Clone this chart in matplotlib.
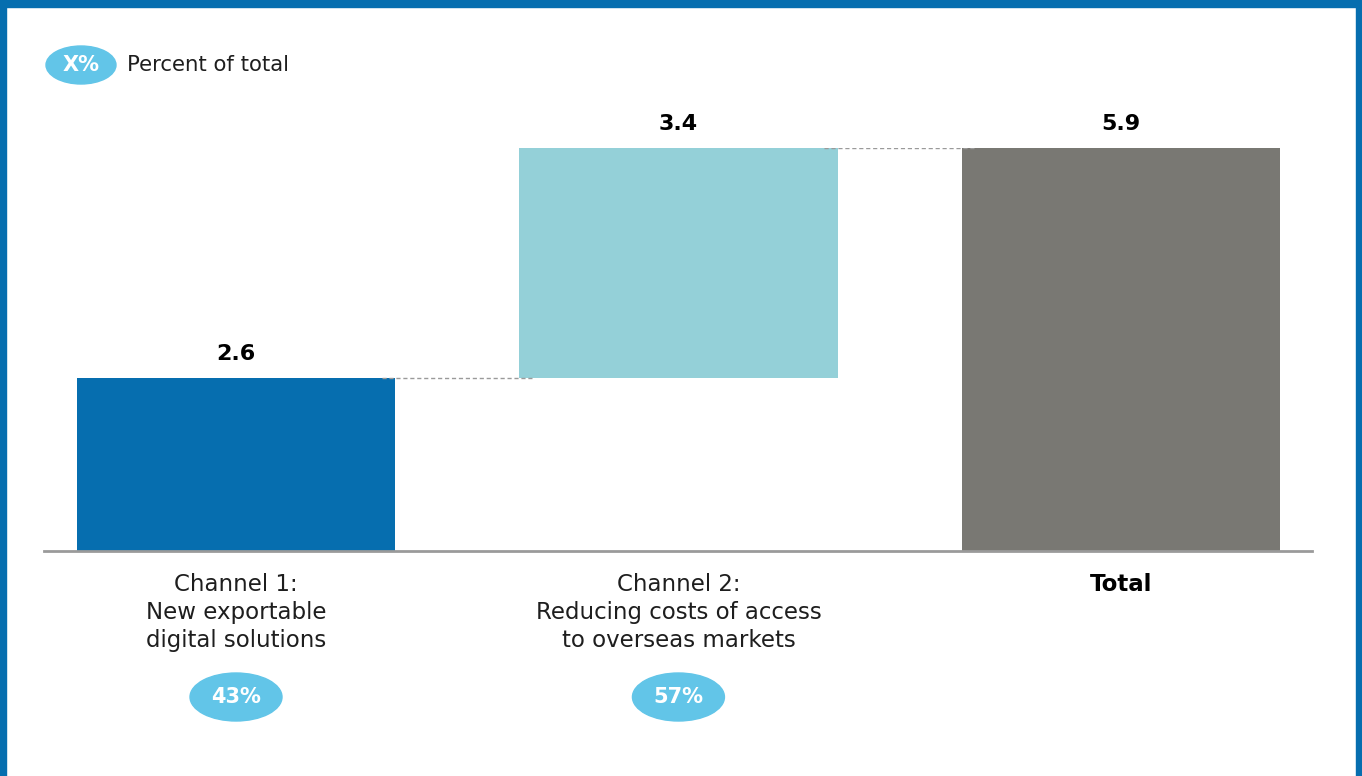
import matplotlib.pyplot as plt
from matplotlib.patches import Ellipse, Rectangle
from matplotlib.transforms import blended_transform_factory

plt.rcParams['font.family'] = ['DejaVu Sans']

# data
categories = ['Channel 1:\nNew exportable\ndigital solutions',
              'Channel 2:\nReducing costs of access\nto overseas markets',
              'Total']
total = 5.9
shares = [0.43, 0.57]
value_labels = ['2.6', '3.4', '5.9']
share_labels = ['43%', '57%']

c_blue = '#066EAF'
c_light = '#94D0D8'
c_grey = '#797873'
c_bubble = '#62C5E8'

steps = [total * s for s in shares]
bottoms = [0, steps[0], 0]
heights = [steps[0], steps[1], total]
colors = [c_blue, c_light, c_grey]
x = [0, 1, 2]
w = 0.72

W, H = 1362, 776
fig = plt.figure(figsize=(W / 100, H / 100), dpi=100)
ax = fig.add_axes([44 / W, 225 / H, 1268 / W, 403 / H])

ax.bar(x, heights, bottom=bottoms, width=w, color=colors, zorder=2)
ax.set_xlim(-0.434, 2.432)
ax.set_ylim(0, total)

# connectors
tops = [bottoms[i] + heights[i] for i in range(3)]
for i in range(2):
    ax.plot([x[i] + w / 2 - 0.03, x[i + 1] - w / 2 + 0.03], [tops[i], tops[i]],
            ls=(0, (3, 2)), color='#9a9a9a', lw=1, zorder=3)

for xi, t, lab in zip(x, tops, value_labels):
    ax.text(xi, t + 0.2, lab, ha='center', va='bottom', fontsize=16,
            fontweight='bold', color='black')

for s in ['top', 'right', 'left']:
    ax.spines[s].set_visible(False)
ax.spines['bottom'].set_color('#9a9a9a')
ax.spines['bottom'].set_linewidth(2)
ax.set_yticks([])
ax.set_xticks(x)
ax.set_xticklabels(categories, fontsize=16.5, linespacing=1.28, color='#1e1e1e')
ax.get_xticklabels()[-1].set_fontweight('bold')
ax.get_xticklabels()[-1].set_color('black')
ax.tick_params(axis='x', length=0, pad=16)

# share bubbles below channels
tr = blended_transform_factory(ax.transData, fig.transFigure)
yc = 1 - 697 / H
for xi, lab in zip(x[:2], share_labels):
    fig.patches.append(Ellipse((xi, yc), 92 / 442.5, 48 / H, transform=tr,
                               color=c_bubble, zorder=1))
    fig.text(xi, yc, lab, transform=tr, ha='center', va='center',
             fontsize=15, fontweight='bold', color='white', zorder=5)

# legend bubble
fig.patches.append(Ellipse((81 / W, 1 - 65 / H), 70 / W, 38 / H,
                           transform=fig.transFigure, color=c_bubble))
fig.text(81 / W, 1 - 65 / H, 'X%', ha='center', va='center', fontsize=15,
         fontweight='bold', color='white', zorder=5)
fig.text(127 / W, 1 - 65 / H, 'Percent of total', ha='left', va='center',
         fontsize=15.3, color='#1e1e1e', zorder=5)

# frame
fig.patches.append(Rectangle((0, 1 - 7 / H), 1, 7 / H, transform=fig.transFigure,
                             color=c_blue))
fig.patches.append(Rectangle((0, 0), 6 / W, 1, transform=fig.transFigure,
                             color=c_blue))
fig.patches.append(Rectangle((1 - 6 / W, 0), 6 / W, 1, transform=fig.transFigure,
                             color=c_blue))

fig.savefig('out.png', dpi=100)
